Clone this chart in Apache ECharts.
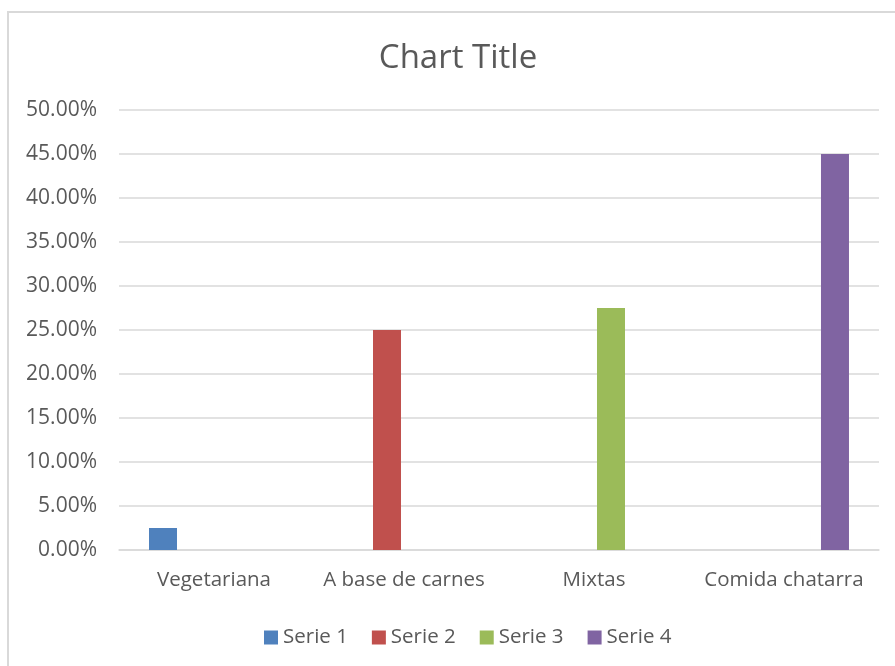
<!DOCTYPE html>
<html>
<head>
<meta charset="utf-8">
<script src="https://cdn.jsdelivr.net/npm/echarts@6/dist/echarts.min.js"></script>
<style>
html,body{margin:0;padding:0;background:#fff;}
#chart{width:895px;height:666px;}
</style>
</head>
<body>
<div id="chart"></div>
<script>
const categories = ['Vegetariana', 'A base de carnes', 'Mixtas', 'Comida chatarra'];
const serie1 = [0.025, 0, 0, 0];
const serie2 = [0, 0.25, 0, 0];
const serie3 = [0, 0, 0.275, 0];
const serie4 = [0, 0, 0, 0.45];
const seriesNames = ['Serie 1', 'Serie 2', 'Serie 3', 'Serie 4'];
const yTicks = { min: 0, max: 0.5, interval: 0.05 };

const FONT = '"Open Sans", "Noto Sans", sans-serif';
const TEXT = '#595959';
const colors = ['#4F81BD', '#C0504D', '#9BBB59', '#8064A2'];
const values = [serie1, serie2, serie3, serie4];

const chart = echarts.init(document.getElementById('chart'), null, { renderer: 'canvas' });
chart.setOption({
  animation: false,
  backgroundColor: '#fff',
  color: colors,
  graphic: [{
    type: 'rect',
    shape: { x: 8, y: 12, width: 1000, height: 1000 },
    style: { fill: 'none', stroke: '#D9D9D9', lineWidth: 2 },
    silent: true, z: -1
  }],
  title: {
    text: 'Chart Title',
    left: 453, top: 37, textAlign: 'center',
    textStyle: { fontFamily: FONT, fontSize: 33, fontWeight: 'normal', color: TEXT }
  },
  legend: {
    left: 259, top: 622,
    itemWidth: 14, itemHeight: 14, itemGap: 24,
    icon: 'rect',
    textStyle: { fontFamily: FONT, fontSize: 20.5, color: TEXT },
    data: seriesNames
  },
  grid: { left: 119, right: 16, top: 110, bottom: 116, containLabel: false },
  xAxis: {
    type: 'category', data: categories,
    axisLine: { show: true, lineStyle: { color: '#D9D9D9', width: 1.5 } },
    axisTick: { show: false },
    axisLabel: { margin: 20, fontFamily: FONT, fontSize: 20.5, color: TEXT, interval: 0 }
  },
  yAxis: {
    type: 'value', min: yTicks.min, max: yTicks.max, interval: yTicks.interval,
    axisLine: { show: false }, axisTick: { show: false },
    splitLine: { lineStyle: { color: '#D9D9D9', width: 1.5 } },
    axisLabel: {
      margin: 22, fontFamily: FONT, fontSize: 21, color: TEXT,
      formatter: v => (v * 100).toFixed(2) + '%'
    }
  },
  series: seriesNames.map((n, i) => ({
    name: n, type: 'bar', data: values[i],
    barWidth: 28, barGap: '21.4%',
    itemStyle: { color: colors[i] }
  }))
});
</script>
</body>
</html>
